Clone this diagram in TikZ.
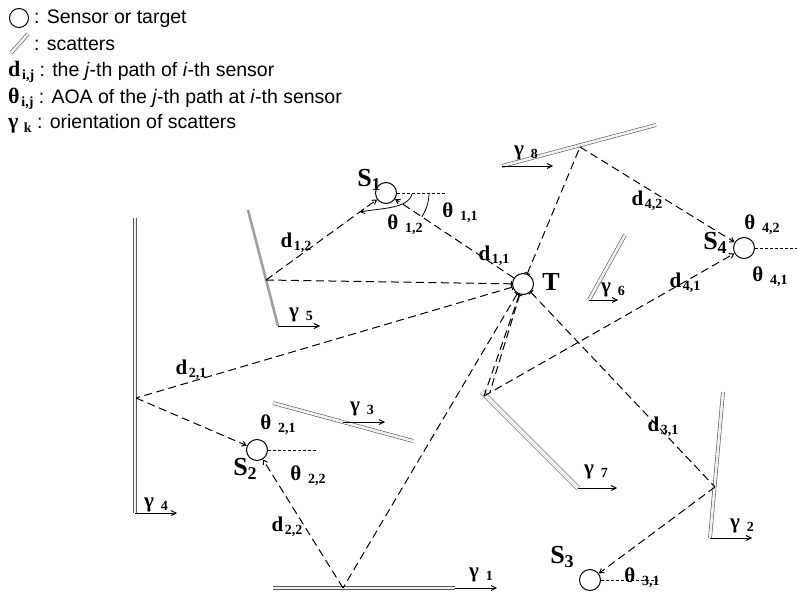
\documentclass[tikz,border=0pt]{standalone}
\usepackage{fontspec}
\setmainfont{Liberation Serif}
\newfontfamily\legfont{Liberation Sans}
\usetikzlibrary{arrows.meta,calc}
\newcommand\lab[3][14]{{\bfseries #2\hspace{0.08em}\raisebox{-0.35ex}{\fontsize{#1}{#1}\selectfont\bfseries #3}}}
\newcommand\slab[2]{{\bfseries #1\raisebox{-0.3ex}{\fontsize{18}{18}\selectfont #2}}}
\tikzset{
  sensor/.style={circle,draw,line width=1pt,minimum size=21pt,inner sep=0pt},
  ray/.style={line width=1pt,dash pattern=on 8pt off 4.5pt},
  ref/.style={line width=0.9pt,dash pattern=on 3pt off 2pt},
  scat/.style={draw=gray!70!black,double=gray!12,double distance=2.6pt,line width=0.6pt},
  orient/.style={line width=0.9pt,-{Straight Barb[length=5pt,width=5pt]}},
  into/.style={-{Straight Barb[length=4pt,width=5pt]}},
  tick/.style={{Bar[width=6pt,line width=1pt]}-},
  lbl/.style={font=\fontsize{21}{21}\selectfont,inner sep=0pt},
  slbl/.style={font=\fontsize{26}{26}\selectfont\bfseries,inner sep=0pt},
  leg/.style={font=\legfont\fontsize{19.5}{19.5}\selectfont,anchor=west,inner sep=0pt},
}
\begin{document}
\begin{tikzpicture}[x=1pt,y=-1pt]
\useasboundingbox (0,0) rectangle (797,596);
% ---------- legend ----------
\node[circle,draw,line width=1pt,minimum size=19pt,inner sep=0pt] (legS) at (19,18) {};
\node[leg] (legSt) at (34,19) {: Sensor or target};
\coordinate (legA) at (11,53);
\coordinate (legB) at (28,34);
\draw[scat] (legA) -- (legB);
\node[leg] (legScat) at (34,44) {: scatters};
\node[leg] (legD) at (8,72) {\rmfamily\lab[14]{\fontsize{22}{22}\selectfont d}{i,j}\legfont{} : the \textit{j}-th path of \textit{i}-th sensor};
\node[leg] (legT) at (8,99) {\rmfamily\lab[14]{\fontsize{22}{22}\selectfont θ}{i,j}\legfont{} : AOA of the \textit{j}-th path at \textit{i}-th sensor};
\node[leg] (legG) at (8,124) {\rmfamily\lab[14]{\fontsize{22}{22}\selectfont γ\,}{k}\legfont{} : orientation of scatters};
% ---------- scatters ----------
\coordinate (g1a) at (273,588); \coordinate (g1b) at (455,588);
\coordinate (g2a) at (723,392); \coordinate (g2b) at (710,538);
\coordinate (g3a) at (273,403); \coordinate (g3b) at (413,441);
\coordinate (g4a) at (135,218); \coordinate (g4b) at (135,513);
\coordinate (g5a) at (248,210); \coordinate (g5b) at (278,326);
\coordinate (g6a) at (625,235); \coordinate (g6b) at (589,300);
\coordinate (g7a) at (482,392); \coordinate (g7b) at (578,488);
\coordinate (g8a) at (502,166); \coordinate (g8b) at (656,125);
\draw[scat] (g1a) -- (g1b);
\draw[scat] (g2a) -- (g2b);
\draw[scat] (g3a) -- (g3b);
\draw[scat] (g4a) -- (g4b);
\draw[line width=2.6pt,gray!75] (g5a) -- (g5b);
\draw[scat] (g6a) -- (g6b);
\draw[scat,double distance=4pt] (g7a) -- (g7b);
\draw[scat] (g8a) -- (g8b);
% orientation arrows
\coordinate (o1) at (497,588);
\coordinate (o2) at (752,538);
\coordinate (g3m) at (343,422); \coordinate (o3) at (385,422);
\coordinate (o4) at (177,513);
\coordinate (o5) at (320,326);
\coordinate (o6) at (618,300);
\coordinate (o7) at (617,488);
\coordinate (o8) at (553,166);
\draw[orient] (g1b) -- (o1);
\draw[orient] (g2b) -- (o2);
\draw[orient] (g3m) -- (o3);
\draw[orient] (g4b) -- (o4);
\draw[orient] (g5b) -- (o5);
\draw[orient] (g6b) -- (o6);
\draw[orient] (g7b) -- (o7);
\draw[orient] (g8a) -- (o8);
\node[lbl] (lg1) at (481,575) {\lab{γ\ }{1}};
\node[lbl] (lg2) at (742,526) {\lab{γ\ }{2}};
\node[lbl] (lg3) at (362,409) {\lab{γ\ }{3}};
\node[lbl] (lg4) at (156,505) {\lab{γ\ }{4}};
\node[lbl] (lg5) at (301,315) {\lab{γ\ }{5}};
\node[lbl] (lg6) at (613,290) {\lab{γ\ }{6}};
\node[lbl] (lg7) at (596,472) {\lab{γ\ }{7}};
\node[lbl] (lg8) at (526,153) {\lab{γ\ }{8}};
% ---------- reflection points ----------
\coordinate (r1) at (343,588);
\coordinate (r2) at (715,487);
\coordinate (r4) at (136,398);
\coordinate (r5) at (266,280);
\coordinate (r7a) at (484,396);
\coordinate (r7b) at (490,392);
\coordinate (r8) at (580,147);
% ---------- sensors and target ----------
\node[sensor] (S1) at (386,193) {};
\node[sensor] (T) at (523,284) {};
\node[sensor] (S4) at (744,248) {};
\node[sensor] (S2) at (257,450) {};
\node[sensor] (S3) at (590,580) {};
\node[slbl] (lS1) at (369,180) {\slab{S}{1}};
\node[slbl] (lT) at (551,282) {T};
\node[slbl] (lS4) at (715,243) {\slab{S}{4}};
\node[slbl] (lS2) at (245,469) {\slab{S}{2}};
\node[slbl] (lS3) at (562,557) {\slab{S}{3}};
% reference directions
\coordinate (e1) at (447,193);
\coordinate (e2) at (317,450);
\coordinate (e3) at (658,580);
\coordinate (e4) at (797,248);
\draw[ref] (S1.east) -- (e1);
\draw[ref] (S2.east) -- (e2);
\draw[ref] (S3.east) -- (e3);
\draw[ref] (S4.east) -- (e4);
% ---------- propagation paths ----------
\draw[ray,tick,into] (T) -- (S1);
\draw[ray,into] (r5) -- (S1);
\draw[ray,tick] (T) -- (r5);
\draw[ray,tick] (T) -- (r4);
\draw[ray,into] (r4) -- (S2);
\draw[ray,into] (r1) -- (S2);
\draw[ray,tick] (T) -- (r1);
\draw[ray,tick] (T) -- (r7a);
\draw[ray] (T) -- (r7b);
\draw[ray,into] (r7a) -- (S4);
\draw[ray,tick] (T) -- (r8);
\draw[ray,into] (r8) -- (S4);
\draw[ray,tick] (T) -- (r2);
\draw[ray,into] (r2) -- (S3);
% ---------- angle arcs ----------
\draw[line width=0.8pt] ($(S1)+(43,0)$) arc[start angle=0,end angle=33.6,radius=43];
\draw[line width=0.8pt,into] ($(S1)+(26,1)$) .. controls ($(S1)+(22,16)$) and ($(S1)+(-5,15)$) .. ($(S1)+(-26,19)$);
% ---------- path and angle labels ----------
\node[lbl] (d12) at (296,243) {\lab{d}{1,2}};
\node[lbl] (d11) at (494,256) {\lab{d}{1,1}};
\node[lbl] (d21) at (191,370) {\lab{d}{2,1}};
\node[lbl] (d22) at (287,527) {\lab{d}{2,2}};
\node[lbl] (d31) at (663,427) {\lab{d}{3,1}};
\node[lbl] (d41) at (685,283) {\lab{d}{4,1}};
\node[lbl] (d42) at (647,201) {\lab{d}{4,2}};
\node[lbl] (t11) at (460,213) {\lab{θ\ }{1,1}};
\node[lbl] (t12) at (405,225) {\lab{θ\ }{1,2}};
\node[lbl] (t21) at (278,425) {\lab{θ\ }{2,1}};
\node[lbl] (t22) at (308,476) {\lab{θ\ }{2,2}};
\node[lbl] (t31) at (642,578) {\lab{θ\ }{3,1}};
\node[lbl] (t41) at (770,277) {\lab{θ\ }{4,1}};
\node[lbl] (t42) at (762,225) {\lab{θ\ }{4,2}};
\end{tikzpicture}
\end{document}
